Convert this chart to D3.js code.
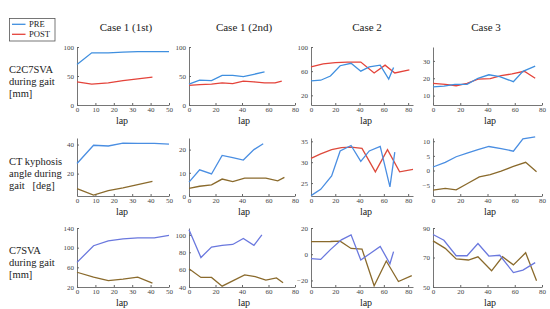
<!DOCTYPE html>
<html>
<head>
<meta charset="utf-8">
<script src="https://cdn.jsdelivr.net/npm/d3@7"></script>
<style>
  body { margin: 0; background: #fff; }
  svg text { font-family: "Liberation Serif", "DejaVu Serif", serif; fill: #222; }
  .tick text { fill: #444; }
</style>
</head>
<body>
<div class="chart"></div>
<script>
var cases = ["Case 1 (1st)", "Case 1 (2nd)", "Case 2", "Case 3"];
var measures = [
  ["C2C7SVA", "during gait", "[mm]"],
  ["CT kyphosis", "angle during", "gait   [deg]"],
  ["C7SVA", "during gait", "[mm]"]
];
var seriesNames = ["PRE", "POST"];

var xTicks = [[0, 10, 20, 30, 40, 50], [0, 20, 40, 60, 80], [0, 20, 40, 60, 80], [0, 20, 40, 60, 80]];
var yTicks = [
  [[0, 50, 100], [0, 50, 100], [20, 60, 100], [10, 20, 30]],
  [[20, 40], [0, 10, 20], [25, 30, 35], [-5, 0, 5, 10]],
  [[20, 60, 100, 140], [40, 60, 80, 100], [-20, 0, 20], [50, 70, 90]]
];

// C2C7SVA
var c2c7PreLap = [[0, 8, 17, 25, 33, 41, 50], [0, 8, 17, 25, 33, 41, 49, 57], [0, 8, 16, 24, 33, 41, 48, 57, 64, 68], [0, 8, 16, 25, 33, 41, 49, 59, 66, 75]];
var c2c7Pre = [[70, 90, 90, 91, 92, 92, 92], [36, 43, 42, 51, 51, 49, 53, 57], [44, 45, 52, 69, 73, 60, 67, 70, 47, 66], [15, 15.5, 16.5, 16.5, 20, 22, 21, 18, 24, 27]];
var c2c7PostLap = [[0, 8, 17, 25, 33, 41], [0, 8, 17, 25, 33, 41, 49, 57, 65, 70], [0, 10, 20, 30, 41, 52, 61, 69, 81], [0, 9, 17, 25, 33, 42, 50, 58, 67, 75]];
var c2c7Post = [[40, 36, 38, 42, 45, 48], [34, 35, 36, 38, 37, 41, 40, 38, 38, 41], [67, 72, 74, 75, 75, 57, 70, 57, 62], [17, 16.5, 15.7, 17, 19.5, 19.8, 21.5, 22.5, 24, 20]];

// CT kyphosis angle
var ctPreLap = [[0, 9, 17, 25, 33, 42, 50], [0, 8, 17, 25, 33, 41, 49, 56], [0, 8, 17, 24, 33, 41, 48, 57, 65, 69], [0, 9, 17, 25, 33, 41, 50, 59, 66, 75]];
var ctPre = [[27, 39.5, 39, 41, 40.8, 40.8, 40.3], [6, 11.3, 9.5, 17.5, 16.5, 15.5, 20, 22.5], [22, 23.5, 26.7, 32.7, 34, 30.2, 32.7, 33.8, 24.1, 32.4], [1.2, 2.8, 4.7, 5.9, 7.1, 8.2, 7.5, 6.6, 10.8, 11.5]];
var ctPostLap = [[0, 9, 17, 25, 33, 41], [0, 8, 17, 25, 33, 42, 50, 58, 67, 72], [0, 8, 17, 25, 33, 42, 53, 63, 73, 84], [0, 9, 17, 25, 34, 42, 50, 59, 68, 76]];
var ctPost = [[9.7, 5.2, 8.3, 10.2, 12.5, 14.7], [3.3, 4.2, 4.8, 7.3, 6.2, 7.7, 7.7, 7.7, 6.5, 8], [30.9, 32, 33, 33.5, 33.6, 33.3, 27.7, 33, 27.7, 28.3], [-6.7, -6.1, -6.6, -4.5, -2.2, -1.4, -0.2, 1.4, 2.8, -0.4]];

// C7SVA
var c7PreLap = [[0, 9, 17, 25, 33, 42, 50], [0, 9, 17, 25, 33, 41, 49, 55], [0, 8, 16, 25, 33, 41, 49, 57, 65, 68], [0, 8, 17, 25, 33, 41, 49, 59, 66, 75]];
var c7Pre = [[70, 104, 114, 118, 120, 120, 125], [106, 74, 86, 88, 89, 96, 88, 100], [-3.4, -3.9, 3.5, 11, 14.8, -4.4, 0.8, 6, -7.3, 2], [85.6, 81.7, 71.2, 71.2, 79.5, 71, 71.5, 59.8, 61.5, 66.5]];
var c7PostLap = [[0, 9, 17, 25, 33, 41], [0, 9, 17, 25, 33, 42, 50, 58, 66, 71], [0, 8, 16, 24, 33, 42, 52, 62, 72, 83], [0, 9, 17, 26, 33, 43, 51, 59, 68, 76]];
var c7Post = [[50, 40, 33, 36, 40, 28], [61, 51, 51, 41, 47, 54, 52, 48, 50.5, 45], [9.6, 9.6, 9.7, 10, 4.4, 3.9, -24, -5.2, -20.8, -16.3], [81.3, 76.2, 69, 68.3, 70.5, 61, 70.5, 65, 73.2, 54.2]];

var preLaps = [c2c7PreLap, ctPreLap, c7PreLap];
var preVals = [c2c7Pre, ctPre, c7Pre];
var postLaps = [c2c7PostLap, ctPostLap, c7PostLap];
var postVals = [c2c7Post, ctPost, c7Post];

// layout
var colX = [[77, 169], [189, 295], [311, 413], [433, 542]];
var xDomains = [[0, 50], [0, 80], [0, 84], [0, 80]];
var rowY = [[47, 105], [138, 196], [228, 287]];
var yDomains = [
  [[0, 100], [0, 100], [4, 100], [4.6, 38]],
  [[4.6, 44.5], [0, 25], [21.9, 35.8], [-8.7, 11.1]],
  [[20, 140], [40, 108], [-25, 20], [50, 90]]
];
var lapX = [122, 244, 366, 490];
var preColor = ["#3f8fdf", "#4a8ee2", "#6a78de"];
var postColor = [["#e4433a", "#e4433a", "#e4433a", "#e4433a"],
                 ["#8a6a2c", "#8a6a2c", "#dd4a3c", "#8a6a2c"],
                 ["#8a6a2c", "#8a6a2c", "#8a6a2c", "#8a6a2c"]];

var svg = d3.select(".chart")
  .append("svg")
  .attr("width", 550)
  .attr("height", 309);

// column titles
var titleX = [126, 244, 367, 486];
cases.forEach(function(c, i) {
  svg.append("text")
    .attr("x", titleX[i])
    .attr("y", 31)
    .attr("text-anchor", "middle")
    .style("font-size", "11px")
    .text(c);
});

// row labels
var labelY = [72.5, 164.5, 254];
measures.forEach(function(lines, r) {
  lines.forEach(function(t, k) {
    svg.append("text")
      .attr("x", 9)
      .attr("y", labelY[r] + k * 12.2)
      .style("font-size", "10.5px")
      .style("white-space", "pre")
      .attr("xml:space", "preserve")
      .text(t);
  });
});

for (var r = 0; r < 3; r++) {
  for (var c = 0; c < 4; c++) {
    var x = d3.scaleLinear().domain(xDomains[c]).range(colX[c]);
    var y = d3.scaleLinear().domain(yDomains[r][c]).range([rowY[r][1], rowY[r][0]]);

    var g = svg.append("g");

    var xAxis = g.append("g")
      .attr("transform", "translate(0," + rowY[r][1] + ")")
      .call(d3.axisBottom(x).tickValues(xTicks[c]).tickSizeInner(-2).tickSizeOuter(0).tickPadding(2));
    var yAxis = g.append("g")
      .attr("transform", "translate(" + colX[c][0] + ",0)")
      .call(d3.axisLeft(y).tickValues(yTicks[r][c]).tickSizeInner(-2).tickSizeOuter(0).tickPadding(3));

    [xAxis, yAxis].forEach(function(a) {
      a.select(".domain").attr("stroke", "#666").attr("stroke-width", 0.9);
      a.selectAll(".tick line").attr("stroke", "#666");
      a.selectAll(".tick text").style("font-size", "7px").style("font-family", "Liberation Serif, serif");
    });

    g.append("text")
      .attr("x", lapX[c])
      .attr("y", rowY[r][1] + 19)
      .attr("text-anchor", "middle")
      .style("font-size", "10px")
      .text("lap");

    var line = d3.line()
      .x(function(d) { return x(d[0]); })
      .y(function(d) { return y(d[1]); });

    var post = d3.zip(postLaps[r][c], postVals[r][c]);
    var pre = d3.zip(preLaps[r][c], preVals[r][c]);

    g.append("path")
      .datum(post)
      .attr("d", line)
      .attr("fill", "none")
      .attr("stroke", postColor[r][c])
      .attr("stroke-width", 1.3);

    g.append("path")
      .datum(pre)
      .attr("d", line)
      .attr("fill", "none")
      .attr("stroke", preColor[r])
      .attr("stroke-width", 1.3);
  }
}

// legend
var legend = svg.append("g");
legend.append("rect")
  .attr("x", 9.5).attr("y", 18.5)
  .attr("width", 45.5).attr("height", 22.5)
  .attr("fill", "#fff")
  .attr("stroke", "#555")
  .attr("stroke-width", 0.8);
[preColor[0], postColor[0][0]].forEach(function(col, i) {
  legend.append("line")
    .attr("x1", 12).attr("x2", 25.5)
    .attr("y1", 24.3 + i * 10).attr("y2", 24.3 + i * 10)
    .attr("stroke", col)
    .attr("stroke-width", 1.3);
  legend.append("text")
    .attr("x", 29)
    .attr("y", 27.3 + i * 10)
    .style("font-size", "8.6px")
    .text(seriesNames[i]);
});
</script>
</body>
</html>
